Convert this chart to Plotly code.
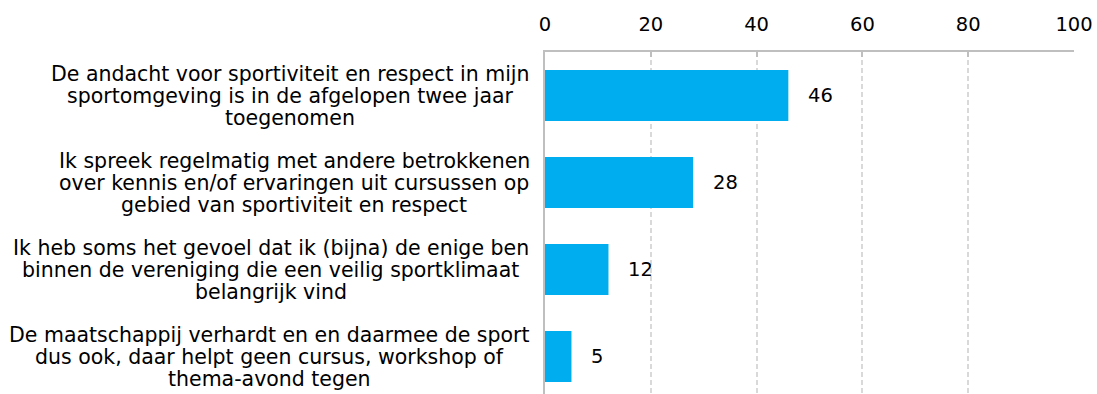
import plotly.graph_objects as go

# Survey statements (top to bottom), split into their display lines,
# and the share of respondents agreeing (%)
statements = [
    ["De andacht voor sportiviteit en respect in mijn",
     "sportomgeving is in de afgelopen twee jaar",
     "toegenomen"],
    ["Ik spreek regelmatig met andere betrokkenen",
     "over kennis en/of ervaringen uit cursussen op",
     "gebied van sportiviteit en respect"],
    ["Ik heb soms het gevoel dat ik (bijna) de enige ben",
     "binnen de vereniging die een veilig sportklimaat",
     "belangrijk vind"],
    ["De maatschappij verhardt en en daarmee de sport",
     "dus ook, daar helpt geen cursus, workshop of",
     "thema-avond tegen"],
]
values = [46, 28, 12, 5]
x_ticks = [0, 20, 40, 60, 80, 100]

FONT = "DejaVu Sans"
LABEL_SIZE = 20.5
NUM_SIZE = 19.5
LINE_GAP = 22            # distance between label lines (px)
LABEL_PAD = 16           # gap between label block and the axis (px)
# rendered width (px) of the widest line of each label block at LABEL_SIZE
block_widths = [478, 470, 517, 520]
BAR = "#00AEEF"
positions = list(range(len(statements)))

fig = go.Figure(
    go.Bar(
        x=values,
        y=positions,
        orientation="h",
        marker=dict(color=BAR, line=dict(width=0)),
        width=0.586,
        hoverinfo="skip",
    )
)

# Value labels to the right of each bar
for pos, v in zip(positions, values):
    fig.add_annotation(
        x=v, y=pos, xref="x", yref="y",
        text=str(v), showarrow=False,
        xanchor="left", yanchor="middle", xshift=18,
        font=dict(family=FONT, size=NUM_SIZE, color="#000000"),
    )

# Category labels: each line centred on its block, block right edge by the axis
for pos, lines, w in zip(positions, statements, block_widths):
    n = len(lines)
    for k, ln in enumerate(lines):
        fig.add_annotation(
            x=0, y=pos, xref="paper", yref="y",
            text=ln, showarrow=False,
            xanchor="center", yanchor="middle",
            xshift=-LABEL_PAD - w / 2,
            yshift=-(k - (n - 1) / 2) * LINE_GAP,
            font=dict(family=FONT, size=LABEL_SIZE, color="#000000"),
        )

fig.update_layout(
    width=1097, height=394,
    margin=dict(l=545, r=23, t=52, b=0, pad=0),
    paper_bgcolor="white", plot_bgcolor="white",
    showlegend=False,
    font=dict(family=FONT, size=NUM_SIZE, color="#000000"),
    xaxis=dict(
        side="top", range=[0, 100], tickvals=x_ticks,
        showline=True, linecolor="#BFBFBF", linewidth=2,
        showgrid=True, gridcolor="#D9D9D9", griddash="5px,3px", gridwidth=1.5,
        ticks="inside", ticklen=5, tickcolor="#BFBFBF", tickwidth=1.5,
        ticklabelstandoff=11,
        tickfont=dict(family=FONT, size=NUM_SIZE, color="#000000"),
        zeroline=False, fixedrange=True,
    ),
    yaxis=dict(
        range=[3.43, -0.5], showticklabels=False,
        showline=True, linecolor="#BFBFBF", linewidth=2,
        showgrid=False, zeroline=False, ticks="", fixedrange=True,
    ),
)

fig.write_html("out.html")
